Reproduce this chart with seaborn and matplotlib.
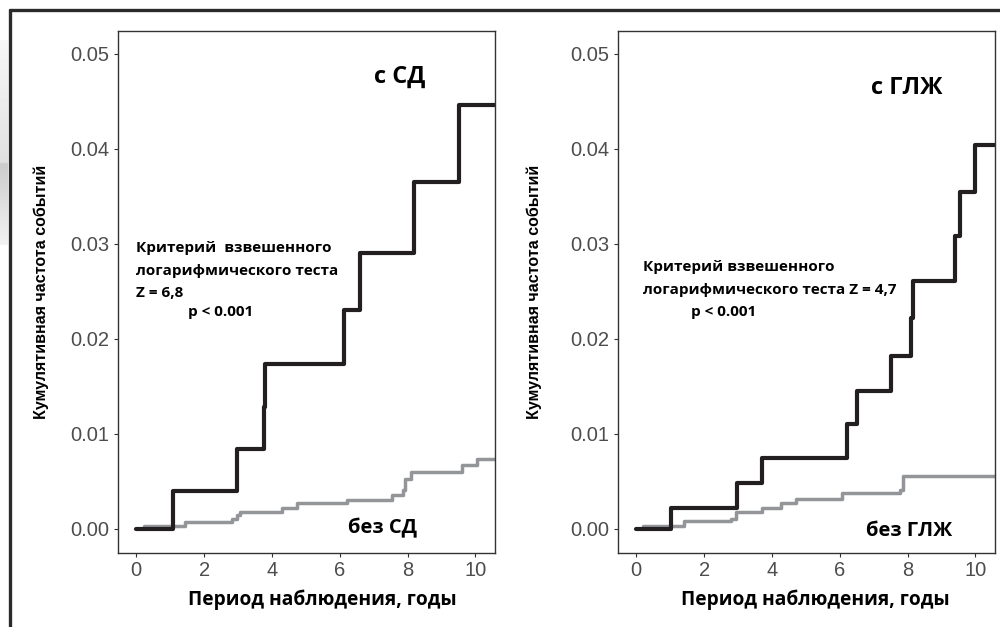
import numpy as np
import pandas as pd
import matplotlib
matplotlib.use("Agg")
import matplotlib.pyplot as plt
from matplotlib.lines import Line2D
import seaborn as sns

# ---- data ----
# Left panel: diabetes (с СД) vs no diabetes (без СД)
sd_t   = [0.0, 1.08, 2.97, 3.76, 3.80, 6.12, 6.59, 8.18, 9.51, 10.6]
sd_y   = [0.0, 0.0040, 0.0084, 0.0128, 0.0174, 0.0231, 0.0290, 0.0365, 0.0446, 0.0446]
nosd_t = [0.22, 1.45, 2.82, 2.97, 3.07, 4.30, 4.74, 6.21, 7.54, 7.88, 7.93, 8.10, 9.60, 10.05, 10.6]
nosd_y = [0.0003, 0.0007, 0.0010, 0.0015, 0.0018, 0.0022, 0.0027, 0.0031, 0.0036, 0.0041, 0.0053, 0.0060, 0.0067, 0.0074, 0.0074]

# Right panel: LVH (с ГЛЖ) vs no LVH (без ГЛЖ)
lvh_t   = [0.0, 1.02, 2.96, 3.71, 6.21, 6.51, 7.51, 8.11, 8.15, 9.40, 9.55, 9.99, 10.6]
lvh_y   = [0.0, 0.0022, 0.0048, 0.0075, 0.0110, 0.0145, 0.0182, 0.0222, 0.0261, 0.0308, 0.0355, 0.0404, 0.0404]
nolvh_t = [0.19, 1.41, 2.79, 2.95, 3.71, 4.26, 4.70, 6.06, 7.78, 7.88, 10.6]
nolvh_y = [0.0003, 0.0008, 0.0011, 0.0018, 0.0022, 0.0027, 0.0032, 0.0038, 0.0041, 0.0056, 0.0056]

yticks = [0.00, 0.01, 0.02, 0.03, 0.04, 0.05]
ytick_labels = ["0.00", "0.01", "0.02", "0.03", "0.04", "0.05"]
xticks = [0, 2, 4, 6, 8, 10]

xlabel = "Период наблюдения, годы"
ylabel = "Кумулятивная частота событий"

panels = [
    dict(t1=sd_t, y1=sd_y, t0=nosd_t, y0=nosd_y, top="с СД", bottom="без СД",
         crit=["Критерий  взвешенного", "логарифмического теста", "Z = 6,8"],
         left=118),
    dict(t1=lvh_t, y1=lvh_y, t0=nolvh_t, y0=nolvh_y, top="с ГЛЖ", bottom="без ГЛЖ",
         crit=["Критерий взвешенного", "логарифмического теста Z = 4,7"],
         left=618),
]

sns.set_theme(style="white")
plt.rcParams["font.family"] = ["Liberation Sans", "DejaVu Sans"]

W, H = 1000, 627
fig = plt.figure(figsize=(10, 6.27), dpi=100)

BLACK = "#231f20"
GRAY = "#939598"
TICKC = "#4d4d4d"
ANN = ["Open Sans", "DejaVu Sans"]

def fx(px):
    return px / W

def fy(py):
    return 1 - py / H

# faint scan gradient on the left edge
grad_ax = fig.add_axes([0, fy(245), fx(8), (245 - 40) / H])
grad = np.concatenate([np.linspace(0.97, 0.88, 60), np.linspace(0.80, 0.95, 40)])
grad_ax.imshow(grad[:, None] * np.ones((1, 8)), cmap="gray", vmin=0, vmax=1,
               aspect="auto", interpolation="bilinear")
grad_ax.axis("off")

# outer frame lines
fig.add_artist(Line2D([fx(10), 1.0], [fy(10), fy(10)], color="#2a2a2a", lw=2.4))
fig.add_artist(Line2D([fx(10), fx(10)], [fy(10), 0.0], color="#2a2a2a", lw=2.4))

top_px, bot_px = 31, 553
AXW = 377
for k, p in enumerate(panels):
    left = p["left"]
    ax = fig.add_axes([fx(left), fy(bot_px), AXW / W, (bot_px - top_px) / H])
    d0 = pd.DataFrame({"t": p["t0"], "y": p["y0"]})
    d1 = pd.DataFrame({"t": p["t1"], "y": p["y1"]})
    sns.lineplot(data=d0, x="t", y="y", ax=ax, color=GRAY, lw=2.5,
                 drawstyle="steps-post", estimator=None, sort=False)
    sns.lineplot(data=d1, x="t", y="y", ax=ax, color=BLACK, lw=3.0,
                 drawstyle="steps-post", estimator=None, sort=False)
    ax.set_xlim(-0.54, 10.58)
    ax.set_ylim(-0.00253, 0.05242)
    ax.set_xticks(xticks)
    ax.set_xticklabels([str(v) for v in xticks])
    ax.set_yticks(yticks)
    ax.set_yticklabels(ytick_labels)
    ax.tick_params(axis="both", which="major", length=3, width=0.8, color="#333333",
                   labelsize=14.5, labelcolor=TICKC, pad=3, direction="out",
                   bottom=True, left=True)
    for s in ax.spines.values():
        s.set_color("#333333")
        s.set_linewidth(1.0)
        s.set_visible(True)
    ax.set_xlabel(xlabel, fontsize=13.8, fontweight="bold", family=ANN, color="black")
    ax.set_ylabel(ylabel, fontsize=11.5, fontweight="bold", color="black")
    ax.grid(False)

    def axpt(px, py):
        return ((px - left) / AXW, (bot_px - py) / (bot_px - top_px))

    if k == 0:
        ax.xaxis.set_label_coords(*axpt(322, 600))
        ax.yaxis.set_label_coords(*axpt(41, 292))
        ax.text(*axpt(400, 77), p["top"], transform=ax.transAxes, ha="center", va="center",
                fontsize=17, fontweight="bold", family=ANN, color="black")
        for i, line in enumerate(p["crit"]):
            ax.text(*axpt(136, 248 + 22.5 * i), line, transform=ax.transAxes, ha="left",
                    va="center", fontsize=11, fontweight="bold", family=ANN, color="black")
        ax.text(*axpt(188, 312), "p < 0.001", transform=ax.transAxes, ha="left", va="center",
                fontsize=11, fontweight="bold", family=ANN, color="black")
        ax.text(*axpt(382, 528), p["bottom"], transform=ax.transAxes, ha="center", va="center",
                fontsize=14.5, fontweight="bold", family=ANN, color="black")
    else:
        ax.xaxis.set_label_coords(*axpt(815, 600))
        ax.yaxis.set_label_coords(*axpt(534, 292))
        ax.text(*axpt(907, 88), p["top"], transform=ax.transAxes, ha="center", va="center",
                fontsize=17, fontweight="bold", family=ANN, color="black")
        for i, line in enumerate(p["crit"]):
            ax.text(*axpt(643, 267 + 23 * i), line, transform=ax.transAxes, ha="left",
                    va="center", fontsize=11, fontweight="bold", family=ANN, color="black")
        ax.text(*axpt(691, 312), "p < 0.001", transform=ax.transAxes, ha="left", va="center",
                fontsize=11, fontweight="bold", family=ANN, color="black")
        ax.text(*axpt(909, 531), p["bottom"], transform=ax.transAxes, ha="center", va="center",
                fontsize=14.5, fontweight="bold", family=ANN, color="black")
    ax.xaxis.label.set_va("center")
    ax.yaxis.label.set_va("center")

fig.savefig("out.png", dpi=100)
